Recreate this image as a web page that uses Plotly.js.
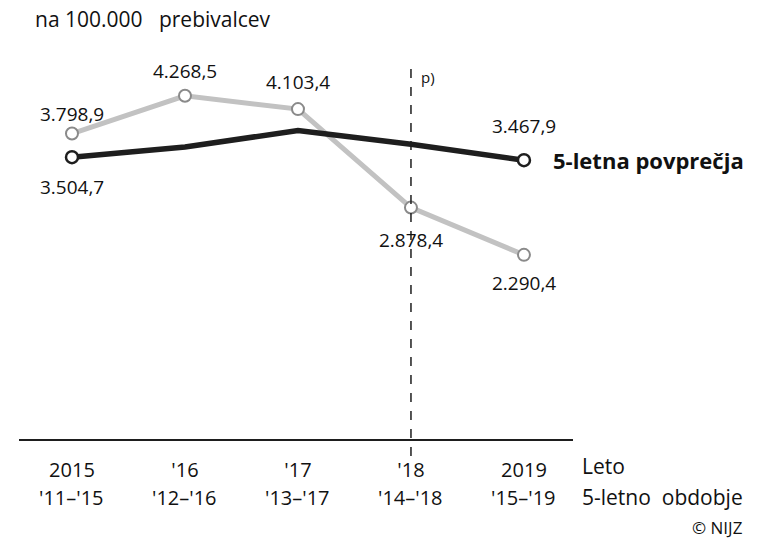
<!DOCTYPE html>
<html>
<head>
<meta charset="utf-8">
<script src="https://cdn.plot.ly/plotly-3.0.1.min.js"></script>
<style>
    html, body { margin: 0; padding: 0; background: #fff; }
    #chart { width: 758px; height: 540px; }
</style>
</head>
<body>
<div id="chart"></div>
<script>
// podatki
const years = ["2015", "'16", "'17", "'18", "2019"];
const periods = ["'11–'15", "'12–'16", "'13–'17", "'14–'18", "'15–'19"];
const yearly = [3798.9, 4268.5, 4103.4, 2878.4, 2290.4];
const avg5 = [3504.7, 3633, 3836, 3667, 3467.9];
const avgLabelled = [true, false, false, false, true];

// slog
const FONT = "'Open Sans', Roboto, sans-serif";
const GRAY_LINE = "#c2c2c2";
const GRAY_MARK = "#8a8a8a";
const DARK = "#1e1e1e";
const yearlyShift = [20, 25, 27, -32, -28];
const avgShift = [-30, 0, 0, 0, 34];

const idx = years.map((_, i) => i);

// slovenski zapis števil: 3.798,9
const slo = v => {
    const [a, b] = v.toFixed(1).split(".");
    return a.replace(/\B(?=(\d{3})+(?!\d))/g, ".") + "," + b;
};

const traces = [
    {
        x: idx, y: yearly, type: "scatter", mode: "lines+markers",
        line: {color: GRAY_LINE, width: 5},
        marker: {size: 12, color: "#fff", line: {color: GRAY_MARK, width: 2}},
        hoverinfo: "none"
    },
    {
        x: idx, y: avg5, type: "scatter", mode: "lines",
        line: {color: DARK, width: 5.5},
        hoverinfo: "none"
    },
    {
        x: idx.filter(i => avgLabelled[i]), y: avg5.filter((_, i) => avgLabelled[i]),
        type: "scatter", mode: "markers",
        marker: {size: 12, color: "#fff", line: {color: DARK, width: 2.5}},
        hoverinfo: "none"
    }
];

const annotations = [];
yearly.forEach((v, i) => {
    annotations.push({x: i, y: v, xref: "x", yref: "y", text: slo(v), showarrow: false,
        yshift: yearlyShift[i], font: {family: FONT, size: 19, color: "#111"}});
});
avg5.forEach((v, i) => {
    if (!avgLabelled[i]) return;
    annotations.push({x: i, y: v, xref: "x", yref: "y", text: slo(v), showarrow: false,
        yshift: avgShift[i], font: {family: FONT, size: 19, color: "#111"}});
});
periods.forEach((p, i) => {
    annotations.push({x: i, y: 0, xref: "x", yref: "paper", text: p, showarrow: false,
        yanchor: "middle", yshift: -58, font: {family: FONT, size: 20, color: "#111"}});
});
annotations.push(
    {x: 1.0126, y: 0, xref: "paper", yref: "paper", text: "Leto", showarrow: false,
        xanchor: "left", yanchor: "middle", yshift: -27, font: {family: FONT, size: 21, color: "#111"}},
    {x: 1.0126, y: 0, xref: "paper", yref: "paper", text: "5-letno\u00a0 obdobje", showarrow: false,
        xanchor: "left", yanchor: "middle", yshift: -58, font: {family: FONT, size: 21, color: "#111"}},
    {x: 1.3105, y: 0, xref: "paper", yref: "paper", text: "© NIJZ", showarrow: false,
        xanchor: "right", yanchor: "middle", yshift: -88, font: {family: FONT, size: 17, color: "#111"}},
    {x: years.length - 1, y: avg5[avg5.length - 1], xref: "x", yref: "y", text: "<b>5-letna povprečja</b>",
        showarrow: false, xanchor: "left", xshift: 27, font: {family: FONT, size: 22, color: "#111"}},
    {x: 3, y: 0.955, xref: "x", yref: "paper", text: "p)", showarrow: false,
        xanchor: "left", yanchor: "middle", xshift: 8, font: {family: FONT, size: 15, color: "#111"}}
);

const layout = {
    width: 758, height: 540,
    margin: {l: 19, r: 185, t: 60, b: 101},
    paper_bgcolor: "#fff", plot_bgcolor: "#fff",
    showlegend: false,
    title: {text: "na 100.000\u00a0\u00a0 prebivalcev", xref: "container", yref: "container",
        x: 35 / 758, xanchor: "left", y: 1 - 20 / 540, yanchor: "middle",
        font: {family: FONT, size: 21, color: "#111"}},
    xaxis: {
        range: [-0.469, 4.434], tickvals: idx, ticktext: years,
        showgrid: false, zeroline: false, showline: true, linecolor: DARK, linewidth: 2,
        ticks: "", ticklabelstandoff: 12,
        tickfont: {family: FONT, size: 20, color: "#111"}, fixedrange: true
    },
    yaxis: {
        range: [0, 4714], visible: false, showgrid: false, zeroline: false, fixedrange: true
    },
    shapes: [{
        type: "line", xref: "x", yref: "paper", x0: 3, x1: 3, y0: -0.045, y1: 0.987,
        line: {color: DARK, width: 1.5, dash: "dash"}
    }],
    annotations: annotations
};

Plotly.newPlot("chart", traces, layout, {displayModeBar: false, staticPlot: true});
</script>
</body>
</html>
